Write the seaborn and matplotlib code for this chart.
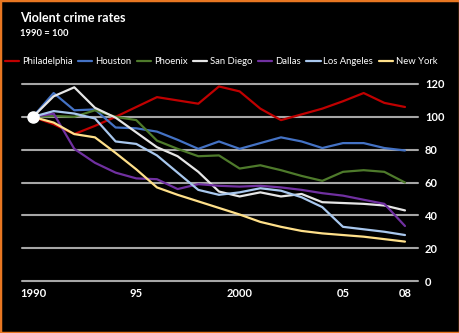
import matplotlib
matplotlib.use("Agg")
import matplotlib.pyplot as plt
import seaborn as sns
import pandas as pd
from matplotlib.lines import Line2D
from matplotlib.patches import Rectangle

years = list(range(1990, 2009))

philadelphia = [100, 95.5, 89.5, 94.5, 100, 106, 112, 110, 108, 118.5, 115.5, 105, 98, 101.5, 105, 109.5, 114.5, 108.5, 106]
houston = [100, 114.5, 104, 104.5, 93.5, 93, 91, 86, 80.5, 85, 80.5, 84, 87.5, 85, 81, 84, 84, 81, 79.5]
phoenix = [100, 100.5, 100, 104, 100, 98, 85.5, 80.5, 76, 76.5, 68.5, 70.5, 67.5, 64, 61, 66.5, 67.5, 66.5, 60]
san_diego = [100, 112.5, 118, 105.5, 99.5, 90.5, 81.5, 76, 66.5, 54.5, 51.5, 54, 51.5, 53, 48, 47.5, 47, 46, 43]
dallas = [100, 102, 80.5, 72, 66, 62.5, 62, 56, 59, 58, 57.5, 58, 57, 55.5, 53.5, 52, 49.5, 47, 33.5]
los_angeles = [100, 103.5, 102, 99, 85, 83.5, 76.5, 66, 55.5, 52.5, 54, 56.5, 55, 51, 45, 33, 31.5, 30, 28]
new_york = [100, 96.5, 89.5, 87.5, 78, 68, 57, 52.5, 48.5, 44.5, 40.5, 36, 33, 30.5, 29, 28, 27, 25.5, 24]

cities = ["Philadelphia", "Houston", "Phoenix", "San Diego", "Dallas", "Los Angeles", "New York"]
series = [philadelphia, houston, phoenix, san_diego, dallas, los_angeles, new_york]
colors = ["#C00000", "#4472C4", "#4E7A2B", "#E6E6E6", "#7030A0", "#A9C8EE", "#FFE08A"]

y_ticks = [0, 20, 40, 60, 80, 100, 120]
x_ticks = [1990, 1995, 2000, 2005, 2008]
x_labels = ["1990", "95", "2000", "05", "08"]

df = pd.DataFrame(
    [(y, c, v) for c, vals in zip(cities, series) for y, v in zip(years, vals)],
    columns=["year", "city", "rate"],
)

sns.set_theme(style="dark")
plt.rcParams["font.family"] = ["Lato", "DejaVu Sans"]

fig = plt.figure(figsize=(4.6, 3.33), dpi=100, facecolor="black")
ax = fig.add_axes([22 / 460, 1 - 281 / 333, 396 / 460, 197 / 333])
ax.set_facecolor("black")

for yv in y_ticks:
    ax.axhline(yv, color="#A6A6A6", lw=1.5, zorder=1)

palette = dict(zip(cities, colors))
sns.lineplot(data=df, x="year", y="rate", hue="city", hue_order=cities,
             palette=palette, linewidth=1.6, legend=False, ax=ax, zorder=3)
for ln in ax.lines:
    ln.set_clip_on(False)

ax.plot([years[0]], [100], marker="o", markersize=8, color="white",
        markeredgecolor="white", zorder=5, clip_on=False)

ax.set_xlim(1989.47, 2008.63)
ax.set_ylim(0, 120)
ax.set_xticks(x_ticks)
ax.set_xticklabels(x_labels)
ax.set_yticks(y_ticks)
ax.yaxis.tick_right()
ax.tick_params(axis="both", length=0, colors="white", labelsize=8)
ax.tick_params(axis="y", pad=5)
ax.tick_params(axis="x", pad=5)
for lab in ax.get_xticklabels() + ax.get_yticklabels():
    lab.set_fontweight("bold")
ax.set_xlabel("")
ax.set_ylabel("")
ax.grid(False)
for s in ax.spines.values():
    s.set_visible(False)

fig.text(20 / 460, 1 - 18 / 333, "Violent crime rates", color="white",
         fontsize=9, fontweight="bold", va="center", ha="left")
fig.text(20 / 460, 1 - 33 / 333, "1990 = 100", color="white",
         fontsize=6.8, fontweight="bold", va="center", ha="left")

handles = [Line2D([0], [0], color=c, lw=1.6) for c in colors]
leg = fig.legend(handles, cities, loc="center", bbox_to_anchor=(221 / 460, 1 - 62 / 333),
                 ncol=7, frameon=False, fontsize=6.8, handlelength=1.5,
                 handletextpad=0.3, columnspacing=0.6, borderpad=0, borderaxespad=0)
for t in leg.get_texts():
    t.set_color("white")

fig.patches.append(Rectangle((0, 0), 1, 1, transform=fig.transFigure, fill=False,
                             edgecolor="#E87722", lw=2.5, zorder=10))

fig.savefig("out.png", dpi=100, facecolor="black")
